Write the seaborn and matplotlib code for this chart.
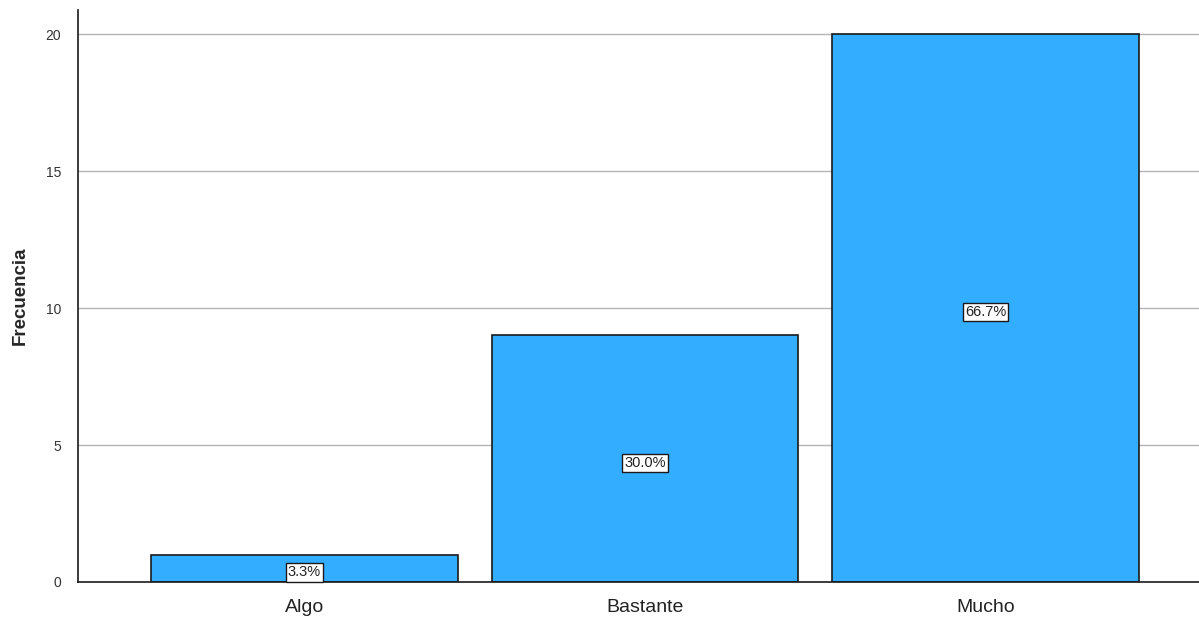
import matplotlib
matplotlib.use("Agg")
import matplotlib.pyplot as plt
import seaborn as sns
import pandas as pd

categories = ["Algo", "Bastante", "Mucho"]
frequencies = [1, 9, 20]
percent_labels = ["3.3%", "30.0%", "66.7%"]
y_ticks = [0, 5, 10, 15, 20]

sns.set_style("white")
plt.rcParams['font.family'] = ['Liberation Sans', 'DejaVu Sans']

df = pd.DataFrame({"cat": categories, "freq": frequencies})

fig = plt.figure(figsize=(11.99, 6.19), dpi=100)
ax = fig.add_axes([0.065, 0.0598, 0.935, 0.924])

for y in y_ticks[1:]:
    ax.axhline(y, color="#b4b4b4", lw=1.0, zorder=0)

sns.barplot(data=df, x="cat", y="freq", color="#33adff", saturation=1,
            width=0.9, edgecolor="#1a1a1a", linewidth=1.2, ax=ax, zorder=2)

for i, (v, lab) in enumerate(zip(frequencies, percent_labels)):
    ax.text(i, v / 2 - 0.15, lab, ha="center", va="center", fontsize=10.5,
            color="#222222", zorder=3,
            bbox=dict(boxstyle="square,pad=0.15", fc="white", ec="#1a1a1a", lw=1))

ax.set_xlim(-0.665, 2.627)
ax.set_ylim(0, 20.88)
ax.set_yticks(y_ticks)
ax.set_yticklabels([str(t) for t in y_ticks], fontsize=10, color="#333333")
ax.tick_params(axis="x", labelsize=14, colors="#222222", length=0, pad=12)
ax.tick_params(axis="y", length=0, pad=12)
ax.set_xlabel("")
ax.set_ylabel("Frecuencia", fontsize=13.5, fontweight="bold", labelpad=12)

for s in ["top", "right"]:
    ax.spines[s].set_visible(False)
for s in ["left", "bottom"]:
    ax.spines[s].set_color("#1a1a1a")
    ax.spines[s].set_linewidth(1.2)

fig.savefig("out.png", dpi=100)
